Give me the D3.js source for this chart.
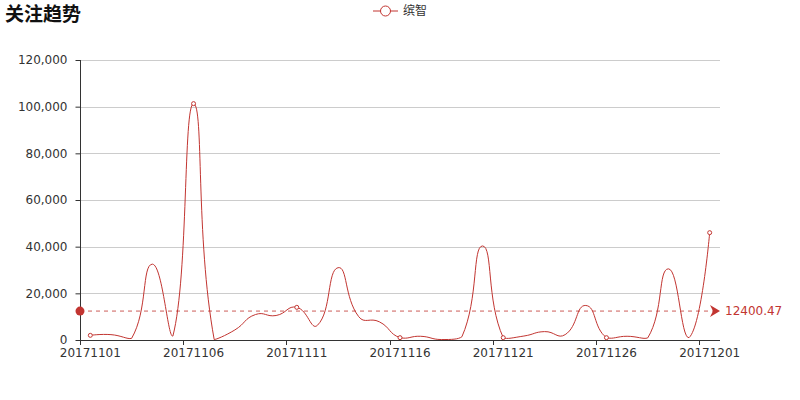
<!DOCTYPE html>
<html>
<head>
<meta charset="utf-8">
<script src="https://cdn.jsdelivr.net/npm/d3@7"></script>
<style>
  html, body { margin: 0; padding: 0; background: #fff; }
  svg { display: block; }
</style>
</head>
<body>
<svg id="chart" width="800" height="400"></svg>
<script>
const chartTitle = "关注趋势";
const seriesName = "缤智";
const categories = [
  "20171101","20171102","20171103","20171104","20171105","20171106","20171107","20171108",
  "20171109","20171110","20171111","20171112","20171113","20171114","20171115","20171116",
  "20171117","20171118","20171119","20171120","20171121","20171122","20171123","20171124",
  "20171125","20171126","20171127","20171128","20171129","20171130","20171201"
];
const values = [
  2000, 2300, 700, 32500, 1700, 101300, 200, 4300,
  10914.5, 10500, 14000, 6300, 31000, 10000, 7800, 1000,
  1600, 200, 1400, 40300, 1000, 1700, 3600, 2300,
  14800, 1000, 1600, 900, 30500, 1000, 46000
];
const yTicks = [0, 20000, 40000, 60000, 80000, 100000, 120000];

const color = "#c23531";
const svg = d3.select("#chart");
const margin = { left: 80, right: 80, top: 60, bottom: 60 };
const W = 800, H = 400;

const x = d3.scaleBand().domain(categories).range([margin.left, W - margin.right]);
const y = d3.scaleLinear().domain([0, 120000]).range([H - margin.bottom, margin.top]);
const cx = d => x(d) + x.bandwidth() / 2;

// grid lines
svg.append("g").selectAll("line").data(yTicks.filter(t => t > 0)).join("line")
  .attr("x1", margin.left).attr("x2", W - margin.right)
  .attr("y1", d => Math.round(y(d)) + 0.5).attr("y2", d => Math.round(y(d)) + 0.5)
  .attr("stroke", "#ccc").attr("stroke-width", 1);

// y axis
const yAxis = svg.append("g").attr("transform", `translate(${margin.left + 0.5},0)`)
  .call(d3.axisLeft(y).tickValues(yTicks).tickSize(5).tickPadding(8).tickFormat(d3.format(",")));
yAxis.select(".domain").attr("stroke", "#333").attr("d", `M-0,${H - margin.bottom}V${margin.top}`);
yAxis.selectAll(".tick line").attr("stroke", "#333");
yAxis.selectAll(".tick text").attr("fill", "#333").style("font", "12px 'DejaVu Sans', sans-serif");

// x axis: ticks at band boundaries every 5 days, labels at band centers
const xg = svg.append("g");
xg.append("line").attr("x1", margin.left).attr("x2", W - margin.right)
  .attr("y1", H - margin.bottom + 0.5).attr("y2", H - margin.bottom + 0.5).attr("stroke", "#333");
const labelCats = categories.filter((c, i) => i % 5 === 0);
xg.selectAll("line.tk").data(labelCats).join("line").attr("class", "tk")
  .attr("x1", d => Math.round(x(d)) + 0.5).attr("x2", d => Math.round(x(d)) + 0.5)
  .attr("y1", H - margin.bottom).attr("y2", H - margin.bottom + 5).attr("stroke", "#333");
xg.selectAll("text").data(labelCats).join("text")
  .attr("x", d => cx(d)).attr("y", H - margin.bottom + 17)
  .attr("text-anchor", "middle").attr("fill", "#333")
  .style("font", "12px 'DejaVu Sans', sans-serif").text(d => d);

// ECharts(4)-like smooth path with bounding-box constraint
function smoothPath(pts, s) {
  const p = d3.path();
  const minX = d3.min(pts, d => d[0]), maxX = d3.max(pts, d => d[0]);
  const minY = d3.min(pts, d => d[1]), maxY = d3.max(pts, d => d[1]);
  const clamp = (c) => [Math.max(minX, Math.min(maxX, c[0])), Math.max(minY, Math.min(maxY, c[1]))];
  const n = pts.length;
  let cpA = pts[0].slice();
  p.moveTo(pts[0][0], pts[0][1]);
  for (let i = 1; i < n; i++) {
    const cur = pts[i], prev = pts[i - 1];
    let cpB, nextA;
    if (i === n - 1) { cpB = cur.slice(); nextA = cur.slice(); }
    else {
      const next = pts[i + 1];
      const v = [next[0] - prev[0], next[1] - prev[1]];
      const lp = Math.hypot(cur[0] - prev[0], cur[1] - prev[1]);
      const ln = Math.hypot(next[0] - cur[0], next[1] - cur[1]);
      const r = ln / (ln + lp);
      cpB = [cur[0] - v[0] * s * (1 - r), cur[1] - v[1] * s * (1 - r)];
      nextA = [cur[0] + v[0] * s * r, cur[1] + v[1] * s * r];
    }
    const a = clamp(cpA), b = clamp(cpB);
    p.bezierCurveTo(a[0], a[1], b[0], b[1], cur[0], cur[1]);
    cpA = nextA;
  }
  return p.toString();
}
const pts = categories.map((c, i) => [cx(c), y(values[i])]);
svg.append("path").attr("d", smoothPath(pts, 0.5))
  .attr("fill", "none").attr("stroke", color).attr("stroke-width", 1);

// average mark line
const avg = d3.mean(values);
const ay = y(avg);
const mg = svg.append("g");
mg.append("line").attr("x1", margin.left).attr("x2", W - margin.right - 6)
  .attr("y1", ay).attr("y2", ay).attr("stroke", color).attr("stroke-width", 1)
  .attr("stroke-dasharray", "4,4").attr("opacity", 0.8);
mg.append("circle").attr("cx", margin.left).attr("cy", ay).attr("r", 4.5).attr("fill", color);
mg.append("path").attr("d", `M${W - margin.right - 10},${ay - 6}L${W - margin.right},${ay}L${W - margin.right - 10},${ay + 6}L${W - margin.right - 7},${ay}Z`)
  .attr("fill", color);
mg.append("text").attr("x", W - margin.right + 5).attr("y", ay).attr("dy", "0.35em")
  .attr("fill", color).style("font", "12px 'DejaVu Sans', sans-serif").text(avg.toFixed(2));

// symbols shown at label interval
svg.append("g").selectAll("circle").data(categories.map((c, i) => ({ c, v: values[i], i })).filter(d => d.i % 5 === 0))
  .join("circle").attr("cx", d => cx(d.c)).attr("cy", d => y(d.v)).attr("r", 2)
  .attr("fill", "#fff").attr("stroke", color).attr("stroke-width", 1);

// title
svg.append("text").attr("x", 5).attr("y", 21).attr("fill", "#111")
  .style("font", "bold 19px 'Noto Sans CJK SC', sans-serif").text(chartTitle);

// legend
const lg = svg.append("g").attr("transform", "translate(373,11)");
lg.append("line").attr("x1", 0).attr("x2", 25).attr("y1", 0).attr("y2", 0).attr("stroke", color).attr("stroke-width", 1);
lg.append("circle").attr("cx", 12.5).attr("cy", 0).attr("r", 5).attr("fill", "#fff").attr("stroke", color).attr("stroke-width", 1);
lg.append("text").attr("x", 30).attr("y", 0).attr("dy", "0.35em").attr("fill", "#333")
  .style("font", "12px 'Noto Sans CJK SC', sans-serif").text(seriesName);
</script>
</body>
</html>
